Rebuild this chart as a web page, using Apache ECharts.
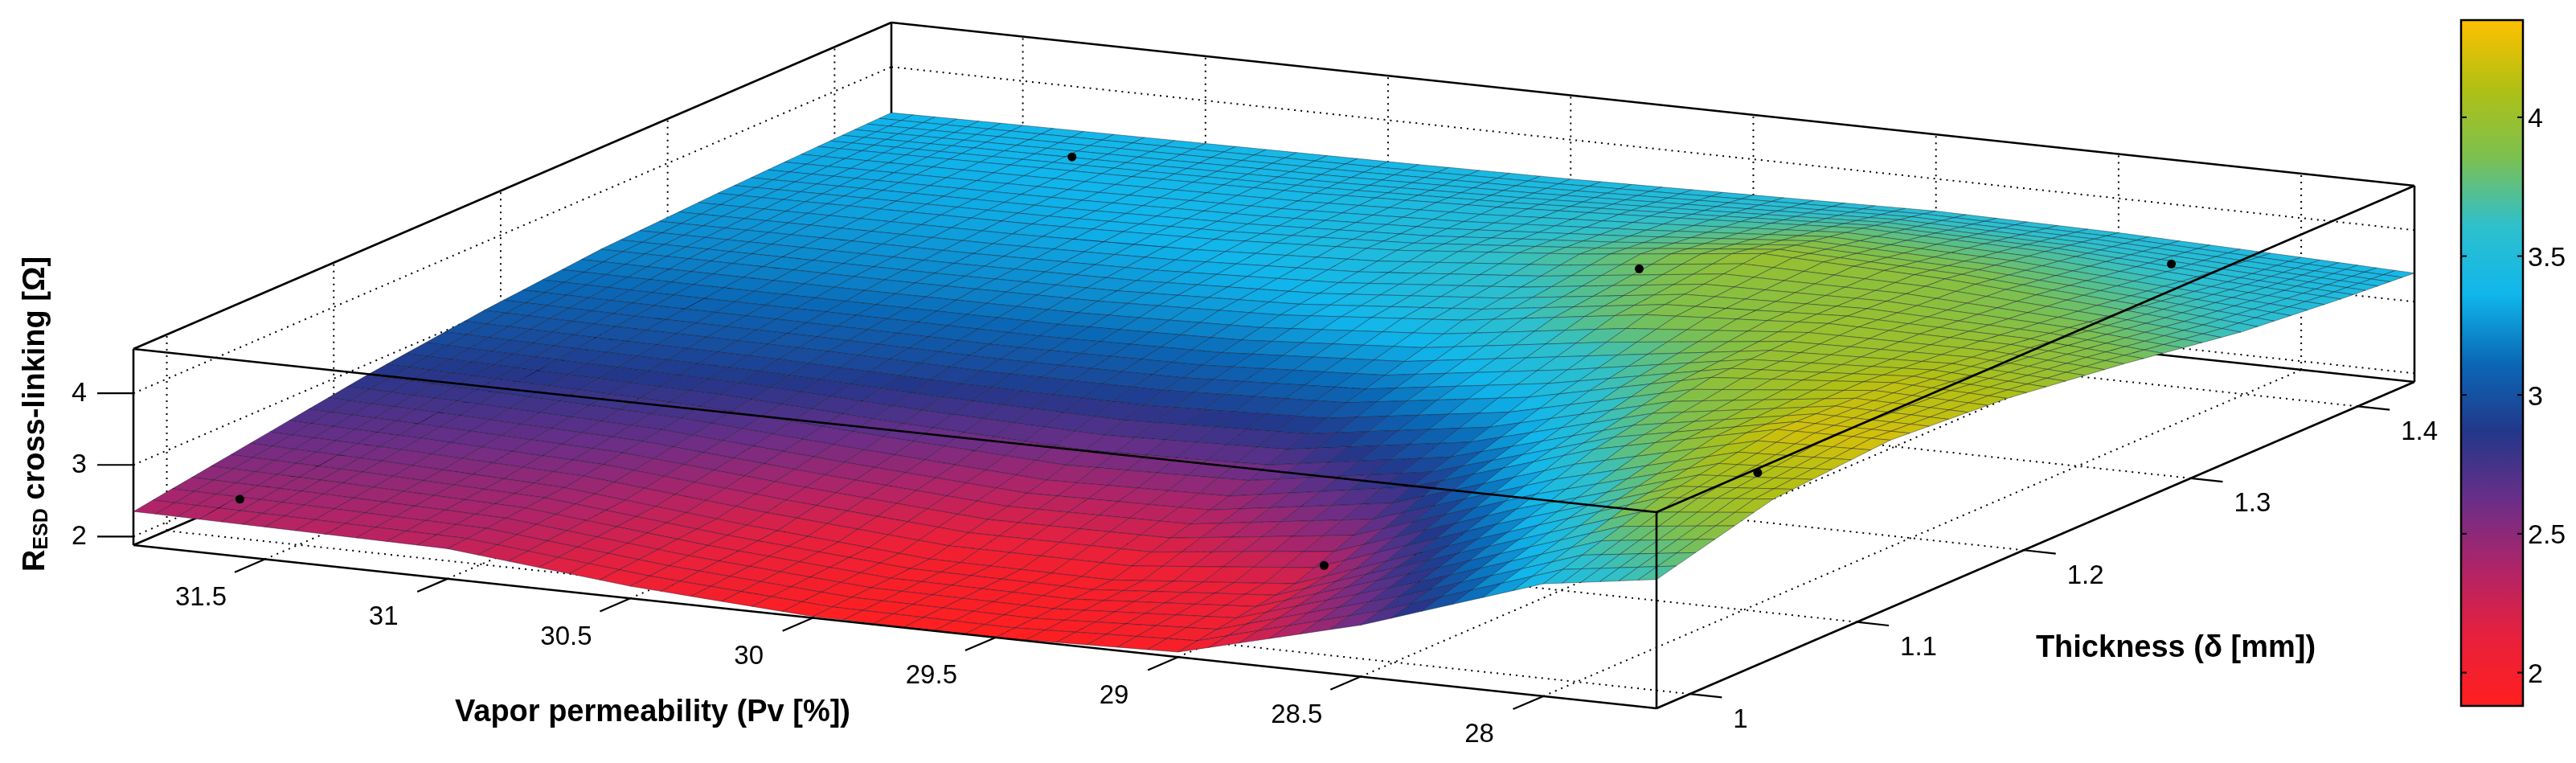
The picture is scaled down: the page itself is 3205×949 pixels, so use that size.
<!DOCTYPE html>
<html>
<head>
<meta charset="utf-8">
<script src="https://cdn.jsdelivr.net/npm/echarts@6/dist/echarts.min.js"></script>
<style>
  html, body { margin: 0; padding: 0; background: #fff; }
  #main { width: 3205px; height: 949px; }
</style>
</head>
<body>
<div id="main"></div>
<script>
// surface grid
const pvValues = [31.86, 31.5, 31, 30.5, 30, 29.5, 29, 28.5, 28, 27.69];
const thickValues = [0.98, 1.05, 1.12, 1.19, 1.26, 1.33, 1.39, 1.434];
// rows follow thickValues, columns follow pvValues
const rValues = [
  [2.35, 2.33, 2.30, 2.05, 1.90, 1.88, 1.95, 2.60, 3.45, 3.68],
  [2.60, 2.55, 2.45, 2.20, 2.00, 1.98, 2.20, 3.10, 3.95, 4.10],
  [2.85, 2.80, 2.72, 2.55, 2.40, 2.45, 2.85, 3.65, 4.20, 4.22],
  [3.05, 3.02, 3.00, 2.95, 2.95, 3.05, 3.40, 3.95, 4.15, 4.10],
  [3.20, 3.20, 3.20, 3.22, 3.30, 3.50, 3.85, 4.00, 3.98, 3.88],
  [3.28, 3.30, 3.32, 3.38, 3.50, 3.72, 4.00, 3.92, 3.75, 3.62],
  [3.33, 3.35, 3.38, 3.42, 3.50, 3.62, 3.75, 3.70, 3.55, 3.48],
  [3.36, 3.38, 3.40, 3.42, 3.45, 3.50, 3.55, 3.52, 3.45, 3.40]
];
// measured points [Pv, thickness, R]
const pointPv = [31.66, 28.92, 31.21, 29.2, 28.2, 27.87];
const pointThick = [1.0, 1.05, 1.4, 1.3, 1.4, 1.08];
const pointR = [2.43, 2.5, 3.44, 3.98, 3.59, 4.07];

const pvTicks = [31.5, 31, 30.5, 30, 29.5, 29, 28.5, 28];
const thickTicks = [1, 1.1, 1.2, 1.3, 1.4];
const rTicks = [2, 3, 4];
const barTicks = [2, 2.5, 3, 3.5, 4];

const colorStops = ['#ff1f1f', '#e8203c', '#b02468', '#6a2e88', '#23378a', '#0a68b6',
                    '#10b6ec', '#2ec0cc', '#7cc050', '#b0c014', '#ffc000'];
const CB_MIN = 1.88, CB_MAX = 4.35;

// box
const PV_MAX = 31.86, PV_MIN = 27.69;
const D_MIN = 0.98, D_MAX = 1.434;
const Z_MIN = 1.88, Z_MAX = 4.62;
const A = [166, 678], B = [2061, 881], C = [3004, 475], H = 244;

function proj(pv, d, z) {
  const u = (PV_MAX - pv) / (PV_MAX - PV_MIN);
  const v = (d - D_MIN) / (D_MAX - D_MIN);
  const w = (z - Z_MIN) / (Z_MAX - Z_MIN);
  return [A[0] + u * (B[0] - A[0]) + v * (C[0] - B[0]),
          A[1] + u * (B[1] - A[1]) + v * (C[1] - B[1]) - w * H];
}

function hex(c) { return [parseInt(c.slice(1, 3), 16), parseInt(c.slice(3, 5), 16), parseInt(c.slice(5, 7), 16)]; }
const stopRgb = colorStops.map(hex);
function colorOf(z) {
  let t = (z - CB_MIN) / (CB_MAX - CB_MIN);
  t = Math.max(0, Math.min(1, t)) * (stopRgb.length - 1);
  const i = Math.min(Math.floor(t), stopRgb.length - 2), f = t - i;
  const a = stopRgb[i], b = stopRgb[i + 1];
  return 'rgb(' + [0, 1, 2].map(k => Math.round(a[k] + (b[k] - a[k]) * f)).join(',') + ')';
}

// quads back to front
const quads = [];
for (let j = thickValues.length - 2; j >= 0; j--) {
  for (let i = 0; i < pvValues.length - 1; i++) quads.push([i, j]);
}

const NU = 6, NV = 6;
function renderQuad(params, api) {
  const i = api.value(0), j = api.value(1);
  const z00 = rValues[j][i], z10 = rValues[j][i + 1], z01 = rValues[j + 1][i], z11 = rValues[j + 1][i + 1];
  const p0 = pvValues[i], p1 = pvValues[i + 1], d0 = thickValues[j], d1 = thickValues[j + 1];
  const zAt = (s, t) => z00 * (1 - s) * (1 - t) + z10 * s * (1 - t) + z01 * (1 - s) * t + z11 * s * t;
  const pt = (s, t) => proj(p0 + (p1 - p0) * s, d0 + (d1 - d0) * t, zAt(s, t));
  const children = [];
  for (let b = NV - 1; b >= 0; b--) {
    for (let a = 0; a < NU; a++) {
      const s0 = a / NU, s1 = (a + 1) / NU, t0 = b / NV, t1 = (b + 1) / NV;
      children.push({
        type: 'polygon',
        shape: { points: [pt(s0, t0), pt(s1, t0), pt(s1, t1), pt(s0, t1)] },
        style: { fill: colorOf(zAt((s0 + s1) / 2, (t0 + t1) / 2)), stroke: 'rgba(20,20,40,0.42)', lineWidth: 1 }
      });
    }
  }
  return { type: 'group', children: children };
}

function seg(p, q, dashed, w) {
  return { type: 'line', shape: { x1: p[0], y1: p[1], x2: q[0], y2: q[1] },
           style: { stroke: '#000', lineWidth: w || (dashed ? 2 : 2.6), lineDash: dashed ? [2, 6] : null } };
}

function renderBack() {
  const c = [];
  thickTicks.forEach(d => c.push(seg(proj(PV_MAX, d, Z_MIN), proj(PV_MAX, d, Z_MAX), true)));
  rTicks.forEach(z => c.push(seg(proj(PV_MAX, D_MIN, z), proj(PV_MAX, D_MAX, z), true)));
  pvTicks.forEach(p => c.push(seg(proj(p, D_MAX, Z_MIN), proj(p, D_MAX, Z_MAX), true)));
  rTicks.forEach(z => c.push(seg(proj(PV_MAX, D_MAX, z), proj(PV_MIN, D_MAX, z), true)));
  pvTicks.forEach(p => c.push(seg(proj(p, D_MIN, Z_MIN), proj(p, D_MAX, Z_MIN), true)));
  thickTicks.forEach(d => c.push(seg(proj(PV_MAX, d, Z_MIN), proj(PV_MIN, d, Z_MIN), true)));
  c.push(seg(proj(PV_MAX, D_MAX, Z_MIN), proj(PV_MAX, D_MAX, Z_MAX)));
  c.push(seg(proj(PV_MAX, D_MIN, Z_MIN), proj(PV_MAX, D_MAX, Z_MIN)));
  c.push(seg(proj(PV_MAX, D_MAX, Z_MIN), proj(PV_MIN, D_MAX, Z_MIN)));
  return { type: 'group', children: c };
}

const font = 'Liberation Sans, Arial, sans-serif';
function txt(x, y, s, align, size, bold) {
  return { type: 'text', x: x, y: y,
           style: { text: s, fill: '#000', font: (bold ? 'bold ' : '') + size + 'px ' + font,
                    align: align || 'center', verticalAlign: 'middle' } };
}

function renderFront() {
  const c = [];
  const top = [proj(PV_MAX, D_MIN, Z_MAX), proj(PV_MIN, D_MIN, Z_MAX), proj(PV_MIN, D_MAX, Z_MAX), proj(PV_MAX, D_MAX, Z_MAX)];
  for (let k = 0; k < 4; k++) c.push(seg(top[k], top[(k + 1) % 4]));
  c.push(seg(proj(PV_MAX, D_MIN, Z_MIN), proj(PV_MAX, D_MIN, Z_MAX)));
  c.push(seg(proj(PV_MIN, D_MIN, Z_MIN), proj(PV_MIN, D_MIN, Z_MAX)));
  c.push(seg(proj(PV_MIN, D_MAX, Z_MIN), proj(PV_MIN, D_MAX, Z_MAX)));
  c.push(seg(proj(PV_MAX, D_MIN, Z_MIN), proj(PV_MIN, D_MIN, Z_MIN)));
  c.push(seg(proj(PV_MIN, D_MIN, Z_MIN), proj(PV_MIN, D_MAX, Z_MIN)));
  rTicks.forEach(z => {
    const p = proj(PV_MAX, D_MIN, z);
    c.push(seg(p, [p[0] - 45, p[1]], false, 2.2));
    c.push(txt(p[0] - 58, p[1], String(z), 'right', 34));
  });
  pvTicks.forEach(pv => {
    const p = proj(pv, D_MIN, Z_MIN);
    const e = [p[0] - 37.6, p[1] + 16.2];
    c.push(seg(p, e, false, 2.2));
    c.push(txt(e[0] - 42, e[1] + 32, String(pv), 'center', 33));
  });
  thickTicks.forEach(d => {
    const p = proj(PV_MIN, d, Z_MIN);
    const e = [p[0] + 39.8, p[1] + 4.3];
    c.push(seg(p, e, false, 2.2));
    c.push(txt(e[0] + 14, e[1] + 28, String(d), 'left', 33));
  });
  return { type: 'group', children: c };
}

function renderPoints(params, api) {
  const p = proj(api.value(0), api.value(1), api.value(2));
  return { type: 'circle', shape: { cx: p[0], cy: p[1], r: 5.5 }, style: { fill: '#000' } };
}

// colour bar
const BAR = { x: 3062, y: 25, w: 77, h: 853 };
const barGraphics = [{ type: 'rect', shape: { x: BAR.x, y: BAR.y, width: BAR.w, height: BAR.h },
                       style: { fill: 'none', stroke: '#000', lineWidth: 2.5 }, z: 100 }];
barTicks.forEach(t => {
  const y = BAR.y + (CB_MAX - t) / (CB_MAX - CB_MIN) * BAR.h;
  barGraphics.push({ type: 'line', shape: { x1: BAR.x, y1: y, x2: BAR.x + 7, y2: y }, style: { stroke: '#000', lineWidth: 2 }, z: 100 });
  barGraphics.push({ type: 'line', shape: { x1: BAR.x + BAR.w - 7, y1: y, x2: BAR.x + BAR.w, y2: y }, style: { stroke: '#000', lineWidth: 2 }, z: 100 });
  barGraphics.push(Object.assign(txt(BAR.x + BAR.w + 6, y + 3, String(t), 'left', 34), { z: 100 }));
});

const chart = echarts.init(document.getElementById('main'));
chart.setOption({
  animation: false,
  backgroundColor: '#fff',
  visualMap: {
    type: 'continuous', min: CB_MIN, max: CB_MAX, seriesIndex: 4,
    left: BAR.x, top: BAR.y, itemWidth: BAR.w, itemHeight: BAR.h, padding: 0,
    calculable: false, text: ['', ''], showLabel: false, hoverLink: false,
    inRange: { color: colorStops }
  },
  graphic: barGraphics.concat([
    txt(812, 887, 'Vapor permeability (Pv [%])', 'center', 38, true),
    txt(2707, 807, 'Thickness (δ [mm])', 'center', 38, true),
    { type: 'text', x: 45, y: 515, rotation: Math.PI / 2,
      style: { text: '{a|R}{b|ESD}{a| cross-linking [Ω]}', align: 'center', verticalAlign: 'middle',
               rich: { a: { font: 'bold 38px ' + font, fill: '#000' },
                       b: { font: 'bold 25px ' + font, fill: '#000', padding: [14, 0, 0, 0] } } } }
  ]),
  series: [
    { type: 'custom', coordinateSystem: 'none', z: 1, silent: true, data: [[0]], renderItem: renderBack },
    { type: 'custom', coordinateSystem: 'none', z: 2, silent: true, data: quads, renderItem: renderQuad },
    { type: 'custom', coordinateSystem: 'none', z: 3, silent: true, data: [[0]], renderItem: renderFront },
    { type: 'custom', coordinateSystem: 'none', z: 4, silent: true,
      data: pointPv.map((p, k) => [p, pointThick[k], pointR[k]]), renderItem: renderPoints },
    { type: 'custom', coordinateSystem: 'none', data: [], renderItem: () => null }
  ]
});
</script>
</body>
</html>
